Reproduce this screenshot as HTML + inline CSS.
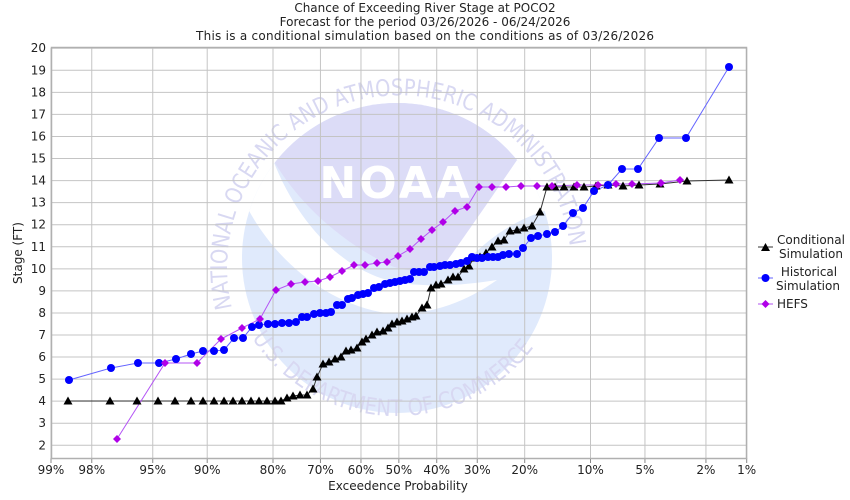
<!DOCTYPE html>
<html><head><meta charset="utf-8"><style>
html,body{margin:0;padding:0;background:#fff;}
svg{display:block;font-family:"DejaVu Sans","Liberation Sans",sans-serif;}
</style></head><body>
<svg id="s" width="850" height="500" viewBox="0 0 850 500" xmlns="http://www.w3.org/2000/svg">
<defs>
<path id="tp" d="M232,308 A172,172 0 1 1 568,300"/>
<path id="bp" d="M252,338 A172,172 0 0 0 545,330"/>
<clipPath id="cc"><circle cx="397" cy="258" r="155"/></clipPath>
</defs>
<rect width="850" height="500" fill="#fff"/>
<g id="logo">
<circle cx="397" cy="258" r="155" fill="#e0eafc"/>
<g clip-path="url(#cc)">
<path d="M517,160 L570,150 L570,205 C525,212 492,235 470,258 L445,262 Z" fill="#fff"/>
<path d="M230,100 L273,160 C300,230 350,275 400,283 C440,288 470,284 497,280 C460,306 420,318 380,312 C320,300 272,255 247,207 L230,207 Z" fill="#fff"/>
<path d="M273,160 A157,157 0 0 1 517,160 C490,200 462,240 442,268 C420,273 400,271 385,263 C340,240 300,205 273,160 Z" fill="#dcdcf7"/>
</g>
<text font-size="23" fill="#d8d8f2" textLength="560" lengthAdjust="spacingAndGlyphs"><textPath href="#tp">NATIONAL OCEANIC AND ATMOSPHERIC ADMINISTRATION</textPath></text>
<text font-size="23" fill="#d8d8f2" textLength="330" lengthAdjust="spacingAndGlyphs"><textPath href="#bp">U.S. DEPARTMENT OF COMMERCE</textPath></text>
<text x="396" y="198" font-size="44" font-weight="bold" fill="#fff" text-anchor="middle" letter-spacing="3">NOAA</text>
</g>
<g id="grid" stroke="#c4c4c4" stroke-width="1"></g>
<rect x="51.5" y="47.5" width="695" height="411" fill="none" stroke="#b0b0b0" stroke-width="1.5"/>
<g id="lbl" font-size="12" fill="#222"></g>
<g font-size="12" fill="#222" text-anchor="middle">
<text x="425" y="12">Chance of Exceeding River Stage at POCO2</text>
<text x="425" y="26">Forecast for the period 03/26/2026 - 06/24/2026</text>
<text x="425" y="40" textLength="458">This is a conditional simulation based on the conditions as of 03/26/2026</text>
<text x="398" y="490">Exceedence Probability</text>
<text transform="translate(22,253) rotate(-90)">Stage (FT)</text>
</g>
<g id="ser"></g>
<g font-size="12" fill="#222" text-anchor="middle">
<line x1="758" y1="247" x2="773" y2="247" stroke="#333"/><path d="M765.5,243 L770,251 L761,251Z" fill="#000"/>
<text x="811" y="244">Conditional</text><text x="811" y="258">Simulation</text>
<line x1="758" y1="278" x2="773" y2="278" stroke="#6060ff"/><circle cx="765.5" cy="278" r="4" fill="#0000ff"/>
<text x="809" y="276">Historical</text><text x="808" y="290">Simulation</text>
<line x1="758" y1="304" x2="773" y2="304" stroke="#b050f0"/><path d="M765.5,300 L769.5,304 L765.5,308 L761.5,304Z" fill="#b000e8"/>
<text x="777" y="308" text-anchor="start">HEFS</text>
</g>
</svg>
<script>
var NS="http://www.w3.org/2000/svg";
function el(p,t,a,txt){var e=document.createElementNS(NS,t);for(var k in a)e.setAttribute(k,a[k]);if(txt!==undefined)e.textContent=txt;document.getElementById(p).appendChild(e);return e;}
function yv(v){return 445.3-(v-2)*22.06;}
function ninv(p){var a=[-39.6968,220.946,-275.929,138.358,-30.6648,2.50663],b=[-54.4761,161.586,-155.699,66.8013,-13.2807],c=[-0.00778489,-0.322396,-2.40076,-2.54973,4.37466,2.93816],d=[0.00778470,0.322467,2.44513,3.75440];var q,r;if(p<0.02425){q=Math.sqrt(-2*Math.log(p));return (((((c[0]*q+c[1])*q+c[2])*q+c[3])*q+c[4])*q+c[5])/((((d[0]*q+d[1])*q+d[2])*q+d[3])*q+1);}if(p>1-0.02425){q=Math.sqrt(-2*Math.log(1-p));return -(((((c[0]*q+c[1])*q+c[2])*q+c[3])*q+c[4])*q+c[5])/((((d[0]*q+d[1])*q+d[2])*q+d[3])*q+1);}q=p-0.5;r=q*q;return (((((a[0]*r+a[1])*r+a[2])*r+a[3])*r+a[4])*r+a[5])*q/(((((b[0]*r+b[1])*r+b[2])*r+b[3])*r+b[4])*r+1);}
var z99=ninv(0.99);
function xp(p){return 51+(z99-ninv(p))/(2*z99)*695.7;}
for(var v=2;v<=20;v++){var y=yv(v);el("grid","line",{x1:51,x2:746,y1:y,y2:y});el("lbl","text",{x:46,y:y+4,"text-anchor":"end"},v);}
var xt=[[0.99,"99%"],[0.98,"98%"],[0.95,"95%"],[0.9,"90%"],[0.8,"80%"],[0.7,"70%"],[0.6,"60%"],[0.5,"50%"],[0.4,"40%"],[0.3,"30%"],[0.2,"20%"],[0.1,"10%"],[0.05,"5%"],[0.02,"2%"],[0.01,"1%"]];
xt.forEach(function(t){var x=xp(t[0]);el("grid","line",{x1:x,x2:x,y1:48,y2:458});el("grid","line",{x1:x,x2:x,y1:458,y2:463,stroke:"#888"});el("lbl","text",{x:x,y:474,"text-anchor":"middle"},t[1]);});
var C=[[68,401],[110,401],[137,401],[158,401],[175,401],[191,401],[203,401],[214,401],[224,401],[233,401],[242,401],[251,401],[259,401],[267,401],[275,401],[281,401],[287,398],[293,396],[300,395],[307,395],[313,389],[317,377],[323,364],[329,362],[335,359],[341,357],[346,351],[351,350],[357,348],[362,342],[366,339],[372,335],[377,332],[383,331],[388,328],[392,324],[397,322],[402,321],[407,319],[412,317],[416,316],[422,308],[427,305],[431,288],[436,285],[441,284],[448,280],[453,277],[458,277],[464,269],[469,266],[474,258],[480,257],[486,253],[492,247],[498,241],[504,240],[510,231],[517,230],[524,228],[532,226],[540,212],[547,187],[555,187],[564,187],[574,187],[584,187],[596,186],[608,185],[623,186],[639,185],[660,184],[687,181],[729,180]];
var H=[[69,380],[111,368],[138,363],[159,363],[176,359],[191,354],[203,351],[214,351],[224,350],[234,338],[243,338],[252,327],[259,325],[268,324],[275,324],[282,323],[289,323],[296,322],[302,317],[307,317],[314,314],[320,313],[326,313],[331,312],[337,305],[342,305],[348,299],[352,298],[358,295],[363,294],[368,293],[374,288],[379,287],[385,284],[390,283],[395,282],[400,281],[405,280],[410,279],[414,272],[419,272],[424,272],[430,267],[434,267],[440,266],[445,265],[450,265],[456,264],[461,263],[467,261],[472,257],[477,258],[482,258],[488,257],[493,257],[498,257],[503,255],[509,254],[517,254],[523,248],[531,238],[538,236],[547,234],[555,232],[563,226],[573,213],[583,208],[594,191],[608,185],[622,169],[638,169],[659,138],[686,138],[729,67]];
var F=[[117,439],[165,363],[197,363],[221,339],[242,328],[260,319],[276,290],[291,284],[305,282],[318,281],[330,277],[342,271],[354,265],[365,265],[377,263],[387,262],[398,256],[410,249],[421,239],[432,230],[443,222],[455,211],[467,207],[479,187],[492,187],[506,187],[521,186],[537,186],[552,186],[577,185],[598,185],[616,184],[632,184],[661,183],[680,180]];
function pl(a,col){el("ser","polyline",{points:a.map(function(p){return p.join(",")}).join(" "),fill:"none",stroke:col,"stroke-width":1});}
pl(C,"#333");pl(H,"#6464ff");pl(F,"#b455f5");
C.forEach(function(p){el("ser","path",{d:"M"+p[0]+","+(p[1]-4.5)+" L"+(p[0]+4.5)+","+(p[1]+3.5)+" L"+(p[0]-4.5)+","+(p[1]+3.5)+"Z",fill:"#000"});});
H.forEach(function(p){el("ser","circle",{cx:p[0],cy:p[1],r:4,fill:"#0000ff"});});
F.forEach(function(p){el("ser","path",{d:"M"+p[0]+","+(p[1]-4)+" L"+(p[0]+4)+","+p[1]+" L"+p[0]+","+(p[1]+4)+" L"+(p[0]-4)+","+p[1]+"Z",fill:"#b000e8"});});
</script>
</body></html>
